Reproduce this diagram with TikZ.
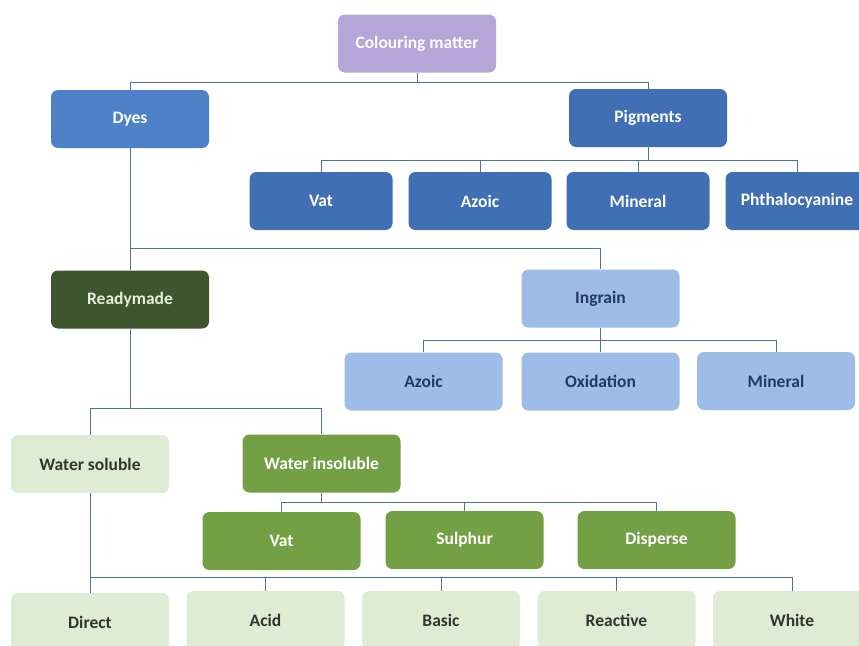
\documentclass[tikz,border=0pt]{standalone}
\usepackage{fontspec}
\setmainfont{Carlito}
\usetikzlibrary{backgrounds}
\definecolor{cpurple}{HTML}{B4A6D6}
\definecolor{cdyes}{HTML}{4F81C9}
\definecolor{cpig}{HTML}{406FB3}
\definecolor{cready}{HTML}{3E5530}
\definecolor{creadytxt}{HTML}{E6F0D8}
\definecolor{cingrain}{HTML}{9DBDE8}
\definecolor{cingtxt}{HTML}{203A66}
\definecolor{clgreen}{HTML}{DDECD2}
\definecolor{cgreen}{HTML}{73A045}
\definecolor{cline}{HTML}{50709F}
\definecolor{cdark}{HTML}{333333}
\tikzset{
  box/.style={rectangle, rounded corners=7pt, minimum width=158pt, minimum height=58pt,
    inner sep=0pt, font=\fontsize{17.5}{19}\selectfont\bfseries},
  purplebox/.style={box, fill=cpurple, text=white},
  dyebox/.style={box, fill=cdyes, text=white},
  pigbox/.style={box, fill=cpig, text=white, minimum width=143pt},
  readybox/.style={box, fill=cready, text=creadytxt},
  ingbox/.style={box, fill=cingrain, text=cingtxt},
  lgbox/.style={box, fill=clgreen, text=cdark},
  gbox/.style={box, fill=cgreen, text=white},
  conn/.style={draw=cline, line width=0.8pt}
}
\begin{document}
\begin{tikzpicture}[x=1pt,y=-1pt]
\useasboundingbox (0,0) rectangle (859,645);
\clip (0,0) rectangle (859,645);
% level 0
\node[purplebox] (cm) at (417,43.5) {Colouring matter};
% level 1
\node[dyebox] (dyes) at (130,119) {Dyes};
\node[dyebox, fill=cpig] (pig) at (648,118) {Pigments};
% pigments children
\node[pigbox] (pvat) at (321,201) {Vat};
\node[pigbox] (pazo) at (480,201) {Azoic};
\node[pigbox] (pmin) at (638,201) {Mineral};
\node[pigbox] (pphth) at (797,201) {Phthalocyanine};
% level 2
\node[readybox] (ready) at (130,299.5) {Readymade};
\node[ingbox] (ing) at (600.5,298.5) {Ingrain};
% ingrain children
\node[ingbox] (iazo) at (423.5,381.5) {Azoic};
\node[ingbox] (iox) at (600.5,381.5) {Oxidation};
\node[ingbox] (imin) at (776,381) {Mineral};
% level 3
\node[lgbox] (ws) at (90,464) {Water soluble};
\node[gbox] (wi) at (321.5,463.5) {Water insoluble};
% water insoluble children
\node[gbox] (gvat) at (281.5,541) {Vat};
\node[gbox] (gsul) at (464.5,540) {Sulphur};
\node[gbox] (gdis) at (656.5,540) {Disperse};
% bottom row
\node[lgbox] (bdir) at (90,622) {Direct};
\node[lgbox] (bacid) at (265.5,620) {Acid};
\node[lgbox] (bbas) at (441,620) {Basic};
\node[lgbox] (breac) at (616.5,620) {Reactive};
\node[lgbox] (bwhite) at (792,620) {White};
\begin{scope}[on background layer]
\fill[white] (0,0) rectangle (859,645);
% colouring matter
\draw[conn] (cm.south) -- (cm.south |- 0,82) -| (dyes.north);
\draw[conn] (cm.south |- 0,82) -| (pig.north);
% pigments
\draw[conn] (pig.south) -- (pig.south |- 0,160) -| (pvat.north);
\draw[conn] (pig.south |- 0,160) -| (pazo.north);
\draw[conn] (pig.south |- 0,160) -| (pmin.north);
\draw[conn] (pig.south |- 0,160) -| (pphth.north);
% dyes
\draw[conn] (dyes.south) -- (ready.north);
\draw[conn] (dyes.south |- 0,248) -| (ing.north);
% ingrain
\draw[conn] (ing.south) -- (ing.south |- 0,340) -| (iazo.north);
\draw[conn] (ing.south |- 0,340) -- (iox.north);
\draw[conn] (ing.south |- 0,340) -| (imin.north);
% readymade
\draw[conn] (ready.south) -- (ready.south |- 0,408) -| (ws.north);
\draw[conn] (ready.south |- 0,408) -| (wi.north);
% water insoluble
\draw[conn] (wi.south) -- (wi.south |- 0,502) -| (gvat.north);
\draw[conn] (wi.south |- 0,502) -| (gsul.north);
\draw[conn] (wi.south |- 0,502) -| (gdis.north);
% water soluble
\draw[conn] (ws.south) -- (bdir.north);
\draw[conn] (ws.south |- 0,577) -| (bacid.north);
\draw[conn] (ws.south |- 0,577) -| (bbas.north);
\draw[conn] (ws.south |- 0,577) -| (breac.north);
\draw[conn] (ws.south |- 0,577) -| (bwhite.north);
\end{scope}
\end{tikzpicture}
\end{document}
